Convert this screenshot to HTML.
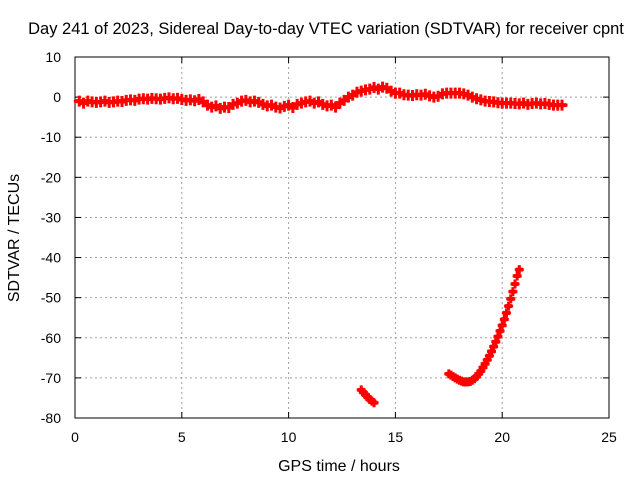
<!DOCTYPE html>
<html><head><meta charset="utf-8"><style>
body{margin:0;background:#fff;}
svg{display:block;font-family:"Liberation Sans",Arial,sans-serif;}
</style></head><body>
<svg id="chart" width="640" height="480">
<rect width="640" height="480" fill="#fff"/>
<text x="326" y="34" text-anchor="middle" font-size="16.5">Day 241 of 2023, Sidereal Day-to-day VTEC variation (SDTVAR) for receiver cpnt</text>
<text x="339" y="471" text-anchor="middle" font-size="16">GPS time / hours</text>
<text transform="translate(19,238) rotate(-90)" text-anchor="middle" font-size="16">SDTVAR / TECUs</text>
<g id="grid"></g><g id="axes"></g><g id="marks"></g>
</svg>
<script>
const xTicks=[0,5,10,15,20,25];
const yTicks=[10,0,-10,-20,-30,-40,-50,-60,-70,-80];
const mainTimes=[0.2,0.4,0.6,0.8,1.0,1.2,1.4,1.6,1.8,2.0,2.2,2.4,2.6,2.8,3.0,3.2,3.4,3.6,3.8,4.0,4.2,4.4,4.6,4.8,5.0,5.2,5.4,5.6,5.8,6.0,6.2,6.4,6.6,6.8,7.0,7.2,7.4,7.6,7.8,8.0,8.2,8.4,8.6,8.8,9.0,9.2,9.4,9.6,9.8,10.0,10.2,10.4,10.6,10.8,11.0,11.2,11.4,11.6,11.8,12.0,12.2,12.4,12.6,12.8,13.0,13.2,13.4,13.6,13.8,14.0,14.2,14.4,14.6,14.8,15.0,15.2,15.4,15.6,15.8,16.0,16.2,16.4,16.6,16.8,17.0,17.2,17.4,17.6,17.8,18.0,18.2,18.4,18.6,18.8,19.0,19.2,19.4,19.6,19.8,20.0,20.2,20.4,20.6,20.8,21.0,21.2,21.4,21.6,21.8,22.0,22.2,22.4,22.6,22.8];
const mainValues=[-1,-1.5,-1,-1.2,-1.3,-1.2,-1,-1.3,-1.2,-1,-1.1,-0.8,-0.7,-0.8,-0.5,-0.4,-0.5,-0.3,-0.4,-0.5,-0.3,-0.2,-0.4,-0.3,-0.6,-0.8,-0.7,-0.9,-0.6,-1.2,-2,-2.5,-2.2,-2.8,-2.5,-2.6,-1.8,-1.5,-1.0,-0.8,-1.2,-1.0,-1.3,-1.8,-2.2,-2.0,-2.5,-2.7,-2.3,-2.0,-2.6,-1.8,-1.5,-1.2,-1.0,-1.5,-1.2,-1.8,-2.2,-2.0,-2.5,-1.5,-0.8,0,0.5,1.2,1.5,1.8,2,2.4,2,2.5,2.2,1.5,1,1,0.6,0.5,0.4,0.6,0.5,0.7,0.3,0,0.2,0.8,1,1,1,1,0.8,0.5,0,-0.4,-0.7,-1,-1.1,-1.2,-1.4,-1.5,-1.5,-1.5,-1.6,-1.7,-1.5,-1.8,-1.6,-1.5,-1.7,-1.6,-1.8,-2,-2,-2];
const dropTimes=[13.4,13.5,13.6,13.7,13.8,13.9,14.0];
const dropValues=[-73,-73.6,-74.2,-74.8,-75.4,-75.8,-76.2];
const curveTimes=[17.5,17.6,17.7,17.8,17.9,18.0,18.1,18.2,18.3,18.4,18.5,18.6,18.7,18.8,18.9,19.0,19.1,19.2,19.3,19.4,19.5,19.6,19.7,19.8,19.9,20.0,20.1,20.2,20.3,20.4,20.5,20.6,20.7,20.8];
const curveValues=[-69,-69.3,-69.7,-70,-70.3,-70.6,-70.8,-71,-71,-71,-70.9,-70.6,-70.2,-69.7,-69,-68.3,-67.4,-66.5,-65.5,-64.5,-63.4,-62.2,-61,-59.7,-58.3,-56.9,-55.4,-53.8,-52.1,-50.3,-48.5,-46.6,-44.6,-43];

const L=75,R=609,T=57,B=418;
const xS=v=>L+(v-0)/25*(R-L);
const yS=v=>T+(10-v)/90*(B-T);
const NS="http://www.w3.org/2000/svg";
function mk(tag,attrs,parent){const e=document.createElementNS(NS,tag);for(const k in attrs)e.setAttribute(k,attrs[k]);parent.appendChild(e);return e;}
const grid=document.getElementById('grid'),axes=document.getElementById('axes'),marks=document.getElementById('marks');
xTicks.forEach(t=>{const x=xS(t);
 if(t>0&&t<25){const g=mk('line',{x1:x,x2:x,y1:T,y2:B,stroke:'#a0a0a0','stroke-dasharray':'2,3'},grid);}
 mk('line',{x1:x,x2:x,y1:B,y2:B-6,stroke:'#000'},axes);mk('line',{x1:x,x2:x,y1:T,y2:T+6,stroke:'#000'},axes);
 const tx=mk('text',{x:x,y:B+24,'text-anchor':'middle','font-size':14},axes);tx.textContent=t;
 });
yTicks.forEach(t=>{const y=yS(t);
 if(t<10&&t>-80){const g=mk('line',{x1:L,x2:R,y1:y,y2:y,stroke:'#a0a0a0','stroke-dasharray':'2,3'},grid);}
 mk('line',{x1:L,x2:L+6,y1:y,y2:y,stroke:'#000'},axes);mk('line',{x1:R,x2:R-6,y1:y,y2:y,stroke:'#000'},axes);
 const tx=mk('text',{x:L-14,y:y+5,'text-anchor':'end','font-size':14},axes);tx.textContent=t;
 });
const frame=mk('rect',{x:L,y:T,width:R-L,height:B-T,fill:'none',stroke:'#000'},axes);

function plot(ts,vs,h){ts.forEach((t,i)=>{const x=xS(t),y=yS(vs[i]);
 const p=mk('path',{d:`M${x-h} ${y}H${x+h}M${x} ${y-h}V${y+h}`,stroke:'#ff0000','stroke-width':3},marks);
 
 const q=mk('rect',{x:x-h+1,y:y-2,width:2*h-2,height:4,fill:'#ff0000'},marks);
 });}
plot(mainTimes,mainValues,5.5);plot(dropTimes,dropValues,4.5);plot(curveTimes,curveValues,4.5);
</script>
</body></html>
